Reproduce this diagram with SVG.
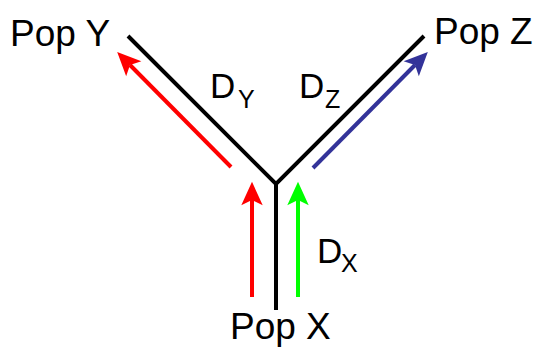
<svg xmlns="http://www.w3.org/2000/svg" width="539" height="347" viewBox="0 0 539 347">
<style>
.lbl{font-family:"Liberation Sans",Arial,sans-serif;fill:#000}
.pop{font-size:37px}
.d{font-size:35px}
.sub{font-size:25px}
.tree{fill:none;stroke:#000;stroke-width:4;stroke-linejoin:miter}
.arr{fill:none;stroke-width:4}
</style>
<defs>
<marker id="hr" markerUnits="userSpaceOnUse" markerWidth="30" markerHeight="30" refX="5" refY="0" viewBox="-2 -12 28 24" orient="auto" overflow="visible"><path d="M0,-10 L22,0 L0,10 L5,0 Z" fill="#ff0000"/></marker>
<marker id="hg" markerUnits="userSpaceOnUse" markerWidth="30" markerHeight="30" refX="5" refY="0" viewBox="-2 -12 28 24" orient="auto" overflow="visible"><path d="M0,-10 L22,0 L0,10 L5,0 Z" fill="#00ff00"/></marker>
<marker id="hb" markerUnits="userSpaceOnUse" markerWidth="30" markerHeight="30" refX="5" refY="0" viewBox="-2 -12 28 24" orient="auto" overflow="visible"><path d="M0,-10 L22,0 L0,10 L5,0 Z" fill="#333399"/></marker>
</defs>
<g id="tree">
<polyline class="tree" points="128,36 276,184 424,36"/>
<line class="tree" x1="276" y1="182" x2="276" y2="310"/>
</g>
<g id="connectors">
<line class="arr" x1="231" y1="167" x2="130" y2="65" stroke="#ff0000" marker-end="url(#hr)"/>
<line class="arr" x1="313" y1="168" x2="415" y2="65" stroke="#333399" stroke-width="3.5" marker-end="url(#hb)"/>
<line class="arr" x1="252" y1="297" x2="252" y2="200" stroke="#ff0000" marker-end="url(#hr)"/>
<line class="arr" x1="298" y1="297" x2="298" y2="200" stroke="#00ff00" marker-end="url(#hg)"/>
</g>
<g id="popY"><text class="lbl pop" x="10" y="46">Pop Y</text></g>
<g id="popZ"><text class="lbl pop" x="434" y="44">Pop Z</text></g>
<g id="popX"><text class="lbl pop" x="230" y="339">Pop X</text></g>
<g id="dY"><text class="lbl d" x="210" y="98">D<tspan class="sub" x="238" y="108">Y</tspan></text></g>
<g id="dZ"><text class="lbl d" x="299" y="98">D<tspan class="sub" x="325" y="108">Z</tspan></text></g>
<g id="dX"><text class="lbl d" x="317" y="263">D<tspan class="sub" x="341" y="272">X</tspan></text></g>
</svg>
